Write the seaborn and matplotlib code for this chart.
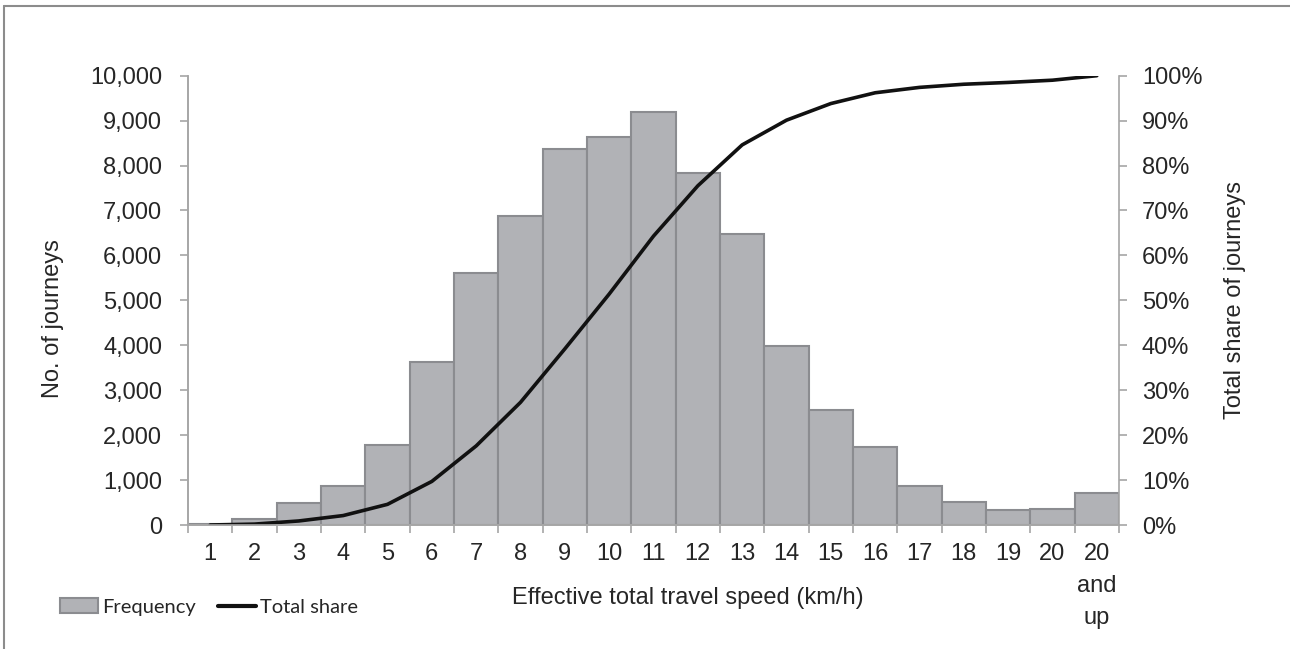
import numpy as np
import matplotlib
matplotlib.use("Agg")
import matplotlib.pyplot as plt
import seaborn as sns
from matplotlib.lines import Line2D
from matplotlib.patches import Patch
from matplotlib.ticker import FuncFormatter, MultipleLocator

# Données
speed_labels = ["1", "2", "3", "4", "5", "6", "7", "8", "9", "10", "11", "12", "13",
                "14", "15", "16", "17", "18", "19", "20", "20\nand\nup"]
frequency = [15, 126, 482, 868, 1780, 3635, 5600, 6880, 8370, 8630, 9185, 7842,
             6477, 3984, 2553, 1736, 868, 505, 340, 345, 720]
total_share = [0.0, 0.2, 0.9, 2.1, 4.6, 9.7, 17.6, 27.3, 39.2, 51.4, 64.3, 75.5,
               84.6, 90.1, 93.8, 96.2, 97.4, 98.1, 98.5, 99.0, 100.0]

text_col = "#262626"
axis_col = "#a6a6a6"
bar_col = "#b1b2b6"
edge_col = "#8b8c90"
fs = 17

sns.set_style("white")
plt.rcParams["font.family"] = ["Liberation Sans", "DejaVu Sans"]

fig = plt.figure(figsize=(12.9, 6.49), dpi=100)
ax = fig.add_axes([188 / 1290, 1 - 525 / 649, 931 / 1290, 449.3 / 649])

# Barres (fréquence)
sns.barplot(x=speed_labels, y=frequency, order=speed_labels, width=1.0,
            color=bar_col, edgecolor=edge_col, linewidth=1.5, saturation=1,
            ax=ax)
ax.set_xlim(-0.5, len(speed_labels) - 0.5)
ax.set_ylim(0, 10000)

# Courbe cumulée sur l'axe secondaire
ax2 = ax.twinx()
pos = np.arange(len(speed_labels))
sns.lineplot(x=pos, y=total_share, color="#111111", linewidth=2.6, ax=ax2)
ax2.set_ylim(0, 100)
ax2.set_xlim(-0.5, len(speed_labels) - 0.5)

# Axe X : traits aux frontières, étiquettes au centre
ax.set_xticks(np.arange(-0.5, len(speed_labels), 1))
ax.set_xticklabels([])
ax.set_xticks(pos, minor=True)
ax.set_xticklabels(speed_labels, minor=True, fontsize=fs, color=text_col,
                   linespacing=1.58, va="top")
ax.tick_params(axis="x", which="major", bottom=True, length=6, width=1.2,
               color=axis_col, direction="out")
ax.tick_params(axis="x", which="minor", bottom=True, length=0, pad=13)

# Axe Y gauche
ax.yaxis.set_major_locator(MultipleLocator(1000))
ax.yaxis.set_major_formatter(FuncFormatter(lambda v, p: f"{int(v):,}"))
ax.tick_params(axis="y", left=True, length=6, width=1.2, color=axis_col,
               direction="out", labelsize=fs, labelcolor=text_col, pad=12.5)

# Axe Y droit
ax2.yaxis.set_major_locator(MultipleLocator(10))
ax2.yaxis.set_major_formatter(FuncFormatter(lambda v, p: f"{int(v)}%"))
ax2.tick_params(axis="y", right=True, length=6, width=1.2, color=axis_col,
                direction="out", labelsize=fs, labelcolor=text_col, pad=10.5)

for a in (ax, ax2):
    a.spines["top"].set_visible(False)
    for s in ("left", "right", "bottom"):
        a.spines[s].set_color(axis_col)
        a.spines[s].set_linewidth(1.2)
ax.spines["right"].set_visible(False)

# Titres d'axes
ax.set_xlabel("Effective total travel speed (km/h)", fontsize=fs, color=text_col)
ax.xaxis.label.set_va("center")
ax.xaxis.set_label_coords(0.537, -0.162)
ax.set_ylabel("No. of journeys", fontsize=fs, color=text_col)
ax.yaxis.label.set_va("center")
ax.yaxis.set_label_coords(-0.145, 0.46)
ax2.set_ylabel("Total share of journeys", fontsize=fs, color=text_col)
ax2.yaxis.label.set_va("center")
ax2.yaxis.set_label_coords(1.125, 0.5)

# Légende
handles = [Patch(facecolor=bar_col, edgecolor=edge_col, linewidth=1.5),
           Line2D([0], [0], color="#111111", linewidth=3)]
fig.legend(handles, ["Frequency", "Total share"], loc="center left",
           bbox_to_anchor=(60 / 1290, 1 - 607 / 649), ncol=2, frameon=False,
           prop={"family": ["Lato", "DejaVu Sans"], "size": 14.5},
           handlelength=1.9, handleheight=0.72, handletextpad=0.2,
           columnspacing=1.1, borderpad=0, borderaxespad=0,
           labelcolor=text_col)

# Cadre extérieur
fig.add_artist(Line2D([4 / 1290, 1], [1 - 6 / 649, 1 - 6 / 649],
                      color="#8c8c8c", linewidth=1.5, transform=fig.transFigure))
fig.add_artist(Line2D([4 / 1290, 4 / 1290], [0, 1 - 6 / 649],
                      color="#8c8c8c", linewidth=1.5, transform=fig.transFigure))

fig.savefig("out.png", dpi=100)
